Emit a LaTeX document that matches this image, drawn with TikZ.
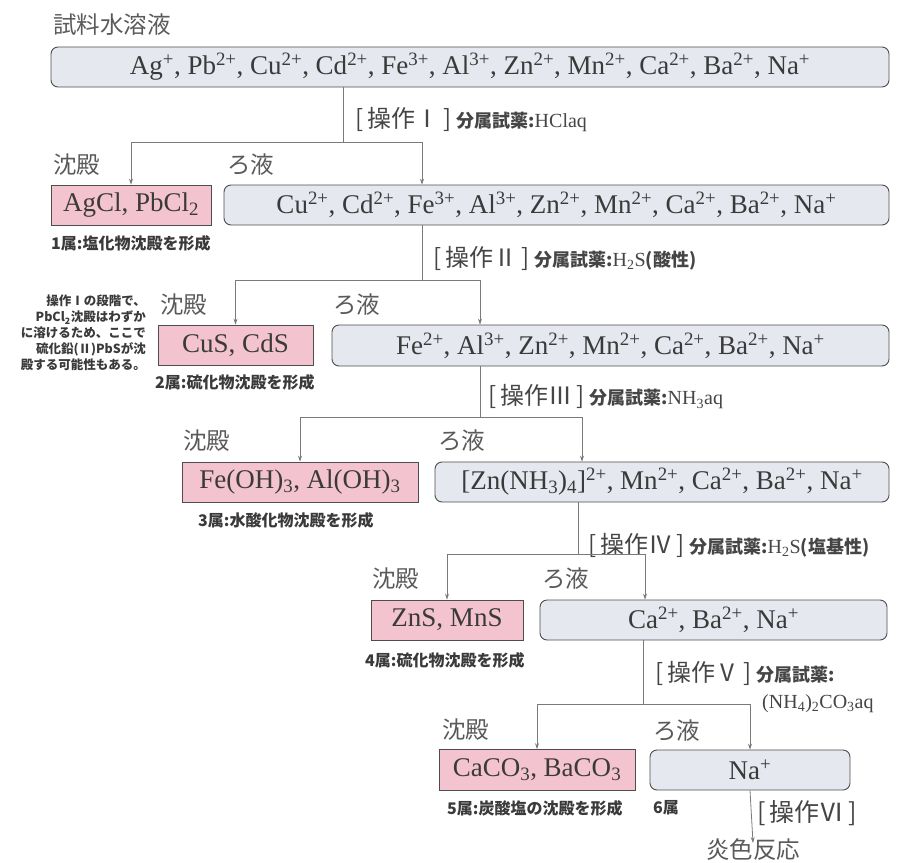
\documentclass[tikz,border=0pt]{standalone}
\usepackage{fontspec}
\setmainfont{Liberation Serif}
\newfontfamily\jp{Noto Sans CJK JP}
\usetikzlibrary{arrows.meta}
\definecolor{pinkfill}{HTML}{F3C3D0}
\definecolor{filtfill}{HTML}{E5E8EE}
\definecolor{boxline}{HTML}{4D4D4D}
\definecolor{conn}{HTML}{7A7A7A}
\definecolor{txt}{HTML}{3A3A3A}
\definecolor{lblgrey}{HTML}{5A5A5A}
\definecolor{optxt}{HTML}{454545}
\newcommand\formfont{\fontsize{27}{29}\selectfont}
\newcommand\chemion[2]{#1\textsuperscript{#2}}
\newcommand\sbs[1]{\textsubscript{#1}}
\newcommand\opA[2]{{\jp\fontsize{24}{26}\selectfont[\,#1\,]}\hspace{5pt}{\jp\bfseries\fontsize{18}{20}\selectfont 分属試薬:}{\fontsize{20}{22}\selectfont #2}}
\newcommand\opB[1]{{\jp\fontsize{25}{28}\selectfont[\,#1\,]}}
\newcommand\grpfont{\jp\bfseries\fontsize{16}{19}\selectfont}
\begin{document}
\begin{tikzpicture}[x=1pt,y=-1pt,
  pinkbox/.style={draw=boxline, fill=pinkfill, line width=0.9pt, inner sep=0pt, font=\formfont, text=txt},
  filtbox/.style={draw=boxline, fill=filtfill, rounded corners=7pt, line width=0.9pt, inner sep=0pt, font=\formfont, text=txt},
  ln/.style={draw=conn, line width=0.8pt},
  arr/.style={ln, -{Stealth[length=6pt,width=4pt]}},
  lbl/.style={font=\jp\fontsize{23.5}{26}\selectfont, text=lblgrey, anchor=west, inner sep=0pt},
  oplbl/.style={text=optxt, anchor=west, inner sep=0pt},
  grplbl/.style={font=\grpfont, text=txt, anchor=west, inner sep=0pt},
  notelbl/.style={font=\jp\bfseries\fontsize{12.5}{16}\selectfont, text=txt, align=right, inner sep=0pt}
]
\fill[white] (0,0) rectangle (902,862);
\useasboundingbox (0,0) rectangle (902,862);

% level 0
\node[lbl] (title) at (53,25) {試料水溶液};
\node[filtbox, minimum width=838pt, minimum height=40pt] (b0) at (470,67)
 {\chemion{Ag}{+}, \chemion{Pb}{2+}, \chemion{Cu}{2+}, \chemion{Cd}{2+}, \chemion{Fe}{3+}, \chemion{Al}{3+}, \chemion{Zn}{2+}, \chemion{Mn}{2+}, \chemion{Ca}{2+}, \chemion{Ba}{2+}, \chemion{Na}{+}};
\node[oplbl] (op1) at (355,120) {\opA{操作Ⅰ}{HClaq}};

% level 1
\node[lbl] (ppt1) at (53,165) {沈殿};
\node[lbl] (fil1) at (227,165) {ろ液};
\node[pinkbox, minimum width=160pt, minimum height=40pt] (p1) at (131,205) {AgCl, PbCl\sbs{2}};
\node[filtbox, minimum width=665pt, minimum height=40pt] (f1) at (556.5,205)
 {\chemion{Cu}{2+}, \chemion{Cd}{2+}, \chemion{Fe}{3+}, \chemion{Al}{3+}, \chemion{Zn}{2+}, \chemion{Mn}{2+}, \chemion{Ca}{2+}, \chemion{Ba}{2+}, \chemion{Na}{+}};
\node[grplbl] (g1) at (51,243) {1属:塩化物沈殿を形成};
\node[oplbl] (op2) at (433,258) {\opA{操作Ⅱ}{H\sbs{2}S{\jp\bfseries\fontsize{18}{20}\selectfont(酸性)}}};

% level 2
\node[lbl] (ppt2) at (160,305) {沈殿};
\node[lbl] (fil2) at (333,305) {ろ液};
\node[pinkbox, minimum width=155pt, minimum height=40pt] (p2) at (235.5,345) {CuS, CdS};
\node[filtbox, minimum width=557pt, minimum height=41pt] (f2) at (610.5,345.5)
 {\chemion{Fe}{2+}, \chemion{Al}{3+}, \chemion{Zn}{2+}, \chemion{Mn}{2+}, \chemion{Ca}{2+}, \chemion{Ba}{2+}, \chemion{Na}{+}};
\node[grplbl] (g2) at (155,382) {2属:硫化物沈殿を形成};
\node[notelbl, anchor=north east] (note) at (146,295)
 {操作Ⅰの段階で、\\PbCl\sbs{2}沈殿はわずか\\に溶けるため、ここで\\硫化鉛(Ⅱ)PbSが沈\\殿する可能性もある。};
\node[oplbl] (op3) at (488,397) {\opA{操作Ⅲ}{NH\sbs{3}aq}};

% level 3
\node[lbl] (ppt3) at (183,441) {沈殿};
\node[lbl] (fil3) at (438,441) {ろ液};
\node[pinkbox, minimum width=236pt, minimum height=40pt] (p3) at (300,482) {Fe(OH)\sbs{3}, Al(OH)\sbs{3}};
\node[filtbox, minimum width=454pt, minimum height=40pt] (f3) at (662,482)
 {[Zn(NH\sbs{3})\sbs{4}]\textsuperscript{2+}, \chemion{Mn}{2+}, \chemion{Ca}{2+}, \chemion{Ba}{2+}, \chemion{Na}{+}};
\node[grplbl] (g3) at (198,520) {3属:水酸化物沈殿を形成};
\node[oplbl] (op4) at (588,545) {\opA{操作Ⅳ}{H\sbs{2}S{\jp\bfseries\fontsize{18}{20}\selectfont(塩基性)}}};

% level 4
\node[lbl] (ppt4) at (372,579) {沈殿};
\node[lbl] (fil4) at (542,579) {ろ液};
\node[pinkbox, minimum width=152pt, minimum height=40pt] (p4) at (447,620) {ZnS, MnS};
\node[filtbox, minimum width=347pt, minimum height=40pt] (f4) at (713.5,620)
 {\chemion{Ca}{2+}, \chemion{Ba}{2+}, \chemion{Na}{+}};
\node[grplbl] (g4) at (365,660) {4属:硫化物沈殿を形成};
\node[oplbl] (op5) at (655,673) {\opA{操作Ⅴ}{}};
\node[oplbl] (op5b) at (762,704) {\fontsize{20}{22}\selectfont(NH\sbs{4})\sbs{2}CO\sbs{3}aq};

% level 5
\node[lbl] (ppt5) at (442,730) {沈殿};
\node[lbl] (fil5) at (653,731) {ろ液};
\node[pinkbox, minimum width=196pt, minimum height=41pt] (p5) at (537,770) {CaCO\sbs{3}, BaCO\sbs{3}};
\node[filtbox, minimum width=200pt, minimum height=40pt] (f5) at (750,770) {\chemion{Na}{+}};
\node[grplbl] (g5) at (447,808) {5属:炭酸塩の沈殿を形成};
\node[grplbl] (g6) at (653,808) {6属};
\node[oplbl] (op6) at (757,813) {\opB{操作Ⅵ}};
\node[lbl, anchor=north, inner sep=0pt] (flame) at (753,838) {炎色反応};

% connectors
\coordinate (s1) at (343,142);
\coordinate (t1) at (422,0);
\draw[ln] (b0.south -| s1) -- (s1);
\draw[arr] (s1) -| (p1.north);
\draw[arr] (s1) -| (f1.north -| t1);

\coordinate (s2) at (422,280);
\coordinate (t2) at (480,0);
\draw[ln] (f1.south -| s2) -- (s2);
\draw[arr] (s2) -| (p2.north);
\draw[arr] (s2) -| (f2.north -| t2);

\coordinate (s3) at (480,417);
\coordinate (t3) at (582,0);
\draw[ln] (f2.south -| s3) -- (s3);
\draw[arr] (s3) -| (p3.north);
\draw[arr] (s3) -| (f3.north -| t3);

\coordinate (s4) at (578,554);
\coordinate (t4) at (645,0);
\draw[ln] (f3.south -| s4) -- (s4);
\draw[arr] (s4) -| (p4.north);
\draw[arr] (s4) -| (f4.north -| t4);

\coordinate (s5) at (643,704);
\draw[ln] (f4.south -| s5) -- (s5);
\draw[arr] (s5) -| (p5.north);
\draw[arr] (s5) -| (f5.north);

\draw[arr] (f5.south) -- ([yshift=-5pt]flame.north);
\end{tikzpicture}
\end{document}
